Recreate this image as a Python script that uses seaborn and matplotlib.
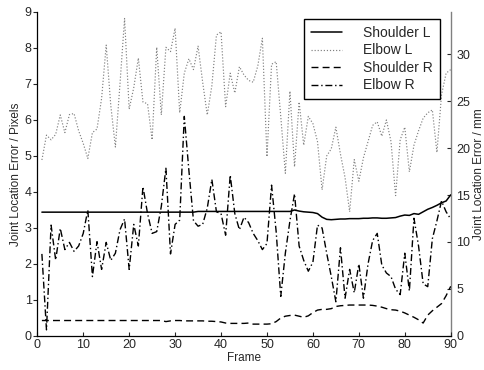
import matplotlib
matplotlib.use("Agg")
import matplotlib.pyplot as plt
import seaborn as sns

# frame index
frames = list(range(1, 91))

# joint location error in pixels
shoulder_l = [3.44, 3.44, 3.44, 3.44, 3.44, 3.44, 3.44, 3.44, 3.44, 3.44,
              3.44, 3.44, 3.44, 3.44, 3.44, 3.44, 3.44, 3.44, 3.44, 3.44,
              3.44, 3.44, 3.44, 3.44, 3.44, 3.44, 3.44, 3.44, 3.44, 3.44,
              3.44, 3.44, 3.44, 3.44, 3.46, 3.46, 3.46, 3.46, 3.46, 3.46,
              3.46, 3.46, 3.46, 3.46, 3.46, 3.46, 3.46, 3.46, 3.46, 3.46,
              3.46, 3.46, 3.46, 3.46, 3.46, 3.50, 3.47, 3.45, 3.44, 3.43,
              3.40, 3.30, 3.24, 3.23, 3.24, 3.25, 3.25, 3.26, 3.26, 3.26,
              3.27, 3.27, 3.28, 3.28, 3.27, 3.27, 3.28, 3.29, 3.33, 3.36,
              3.35, 3.40, 3.38, 3.45, 3.52, 3.57, 3.63, 3.70, 3.75, 3.92]

elbow_l = [4.89, 5.58, 5.45, 5.60, 6.14, 5.65, 6.15, 6.18, 5.70, 5.35,
           4.93, 5.65, 5.75, 6.60, 8.08, 6.40, 5.25, 7.00, 8.82, 6.30,
           6.90, 7.72, 6.50, 6.45, 5.45, 8.02, 6.14, 8.02, 7.90, 8.55,
           6.20, 7.30, 7.70, 7.40, 8.05, 7.05, 6.14, 6.95, 8.36, 8.45,
           6.37, 7.30, 6.75, 7.48, 7.25, 7.10, 7.05, 7.50, 8.27, 4.98,
           7.55, 7.62, 6.10, 4.52, 6.80, 4.70, 6.50, 5.30, 6.10, 5.90,
           5.40, 4.06, 5.00, 5.20, 5.80, 5.05, 4.40, 3.45, 4.90, 4.30,
           4.95, 5.40, 5.85, 5.95, 5.55, 6.00, 5.40, 3.90, 5.45, 5.80,
           4.56, 5.30, 5.70, 6.05, 6.20, 6.28, 5.10, 6.70, 7.30, 7.40]

shoulder_r = [0.43, 0.43, 0.43, 0.43, 0.43, 0.43, 0.43, 0.43, 0.43, 0.43,
              0.43, 0.43, 0.43, 0.43, 0.43, 0.43, 0.43, 0.43, 0.43, 0.43,
              0.43, 0.43, 0.43, 0.43, 0.43, 0.43, 0.43, 0.40, 0.42, 0.43,
              0.43, 0.42, 0.42, 0.42, 0.42, 0.42, 0.41, 0.41, 0.40, 0.39,
              0.36, 0.35, 0.35, 0.35, 0.35, 0.36, 0.33, 0.33, 0.33, 0.33,
              0.34, 0.40, 0.50, 0.55, 0.57, 0.58, 0.55, 0.52, 0.56, 0.65,
              0.72, 0.74, 0.74, 0.76, 0.82, 0.84, 0.85, 0.86, 0.86, 0.86,
              0.86, 0.86, 0.85, 0.83, 0.80, 0.76, 0.73, 0.72, 0.69, 0.64,
              0.58, 0.52, 0.45, 0.36, 0.58, 0.70, 0.80, 0.90, 1.12, 1.38]

elbow_r = [2.28, 0.17, 3.08, 2.11, 2.99, 2.40, 2.60, 2.35, 2.50, 2.85,
           3.50, 1.65, 2.62, 1.85, 2.60, 2.10, 2.30, 2.95, 3.25, 1.85,
           3.10, 2.50, 4.15, 3.40, 2.85, 2.90, 3.60, 4.66, 2.28, 3.10,
           3.22, 6.10, 4.60, 3.20, 3.05, 3.10, 3.55, 4.35, 3.45, 3.40,
           2.80, 4.47, 3.40, 2.95, 3.30, 3.15, 2.85, 2.65, 2.40, 2.57,
           4.19, 2.90, 1.10, 2.30, 3.20, 3.95, 2.50, 2.10, 1.80, 2.05,
           3.08, 3.00, 2.30, 1.65, 0.95, 2.45, 1.05, 1.85, 1.20, 2.00,
           1.05, 2.00, 2.65, 2.85, 1.97, 1.75, 1.65, 1.30, 1.15, 2.30,
           1.25, 3.27, 2.50, 1.45, 1.37, 2.70, 3.20, 3.75, 3.45, 3.25]

labels = ["Shoulder L", "Elbow L", "Shoulder R", "Elbow R"]
px_to_mm = 3.83

sns.set_style("ticks")
plt.rcParams["font.family"] = ["Liberation Sans", "DejaVu Sans"]

fig = plt.figure(figsize=(4.85, 3.7), dpi=100)
ax = fig.add_axes([0.0769, 0.0919, 0.8524, 0.8757])

styles = [
    dict(color="black", linestyle="-", linewidth=1.1),
    dict(color="0.5", linestyle=(0, (1, 1.6)), linewidth=0.85),
    dict(color="black", linestyle=(0, (5, 3)), linewidth=1.0),
    dict(color="black", linestyle=(0, (5, 2, 1, 2)), linewidth=1.0),
]
series = [shoulder_l, elbow_l, shoulder_r, elbow_r]
for vals, lab, st in zip(series, labels, styles):
    sns.lineplot(x=frames, y=vals, ax=ax, label=lab, **st)

ax.set_xlim(0, 90)
ax.set_ylim(0, 9)
ax.set_xticks(range(0, 91, 10))
ax.set_yticks(range(0, 10))
ax.set_xlabel("Frame", fontsize=8.5, labelpad=1)
ax.set_ylabel("Joint Location Error / Pixels", fontsize=8.5, labelpad=2)
ax.tick_params(axis="x", direction="in", length=3, labelsize=9, pad=2)
ax.tick_params(axis="y", direction="out", length=3, labelsize=9, pad=1)
ax.spines["top"].set_visible(False)
ax.spines["right"].set_visible(False)
for s in ["left", "bottom"]:
    ax.spines[s].set_color("black")
    ax.spines[s].set_linewidth(0.9)

ax2 = ax.twinx()
ax2.set_ylim(0, 9 * px_to_mm)
ax2.set_yticks(range(0, 31, 5))
ax2.set_ylabel("Joint Location Error / mm", fontsize=8.5, labelpad=2)
ax2.tick_params(axis="y", direction="in", length=3, labelsize=9, pad=4)
for s in ["top", "left", "bottom"]:
    ax2.spines[s].set_visible(False)
ax2.spines["right"].set_color("0.5")
ax2.spines["right"].set_linewidth(1.0)

leg = ax.legend(loc="upper right", bbox_to_anchor=(440 / 485, 1 - 19 / 370),
                bbox_transform=fig.transFigure, frameon=True, fancybox=False,
                framealpha=1, edgecolor="black", borderaxespad=0,
                fontsize=10, handlelength=2.3, handletextpad=1.5,
                labelspacing=0.25, borderpad=0.5)
leg.get_frame().set_linewidth(1.0)
leg.set_zorder(10)
ax.set_zorder(ax2.get_zorder() + 1)
ax.patch.set_visible(False)

fig.savefig("out.png", dpi=100)
